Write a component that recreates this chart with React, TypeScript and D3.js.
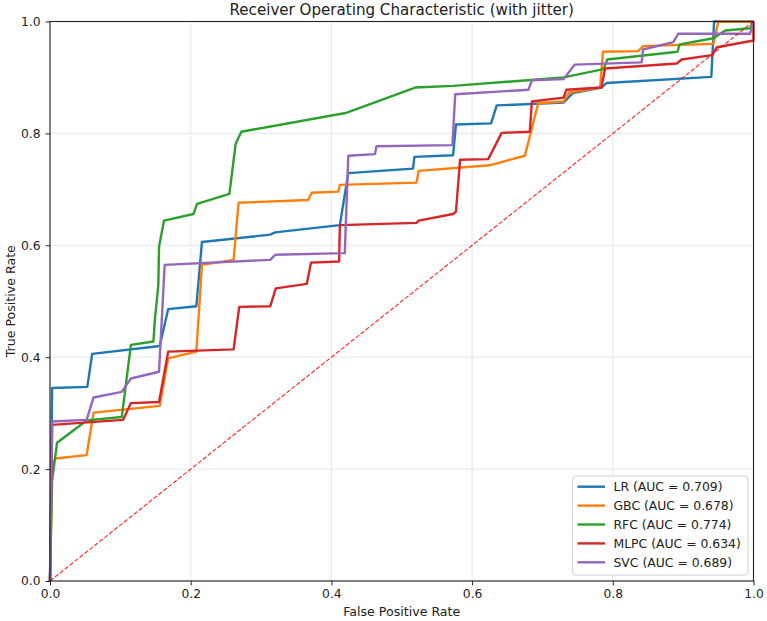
import React, {useEffect, useRef} from "react";
import {axisBottom, axisLeft, line, scaleLinear, select} from "d3";

// ROC curve points
const lrFpr = [0, 0.003, 0.053, 0.06, 0.156, 0.168, 0.208, 0.216, 0.313, 0.32, 0.412, 0.424, 0.516, 0.518, 0.573, 0.577, 0.627, 0.635, 0.73, 0.743, 0.784, 0.791, 0.94, 0.944, 1];
const lrTpr = [0, 0.345, 0.347, 0.406, 0.42, 0.486, 0.491, 0.606, 0.619, 0.623, 0.636, 0.729, 0.737, 0.758, 0.761, 0.816, 0.818, 0.85, 0.855, 0.872, 0.882, 0.89, 0.901, 1, 1];

const gbcFpr = [0, 0.003, 0.008, 0.052, 0.062, 0.156, 0.168, 0.208, 0.216, 0.261, 0.268, 0.367, 0.372, 0.41, 0.412, 0.521, 0.524, 0.625, 0.675, 0.694, 0.73, 0.738, 0.782, 0.786, 0.836, 0.843, 0.943, 0.95, 1];
const gbcTpr = [0, 0.205, 0.219, 0.225, 0.301, 0.313, 0.398, 0.41, 0.565, 0.574, 0.676, 0.681, 0.694, 0.696, 0.708, 0.712, 0.733, 0.743, 0.76, 0.854, 0.857, 0.873, 0.882, 0.946, 0.947, 0.956, 0.96, 1, 1];

const rfcFpr = [0, 0.003, 0.01, 0.052, 0.102, 0.115, 0.147, 0.149, 0.154, 0.155, 0.162, 0.204, 0.209, 0.255, 0.264, 0.272, 0.422, 0.519, 0.573, 0.73, 0.787, 0.792, 0.892, 0.895, 0.943, 0.96, 0.995, 1];
const rfcTpr = [0, 0.18, 0.247, 0.287, 0.293, 0.422, 0.428, 0.466, 0.529, 0.598, 0.644, 0.656, 0.674, 0.692, 0.782, 0.803, 0.837, 0.882, 0.885, 0.9, 0.915, 0.932, 0.946, 0.959, 0.97, 0.984, 0.988, 1];

const mlpcFpr = [0, 0.003, 0.104, 0.115, 0.155, 0.168, 0.261, 0.269, 0.313, 0.321, 0.365, 0.371, 0.411, 0.412, 0.521, 0.524, 0.573, 0.577, 0.583, 0.623, 0.642, 0.682, 0.685, 0.73, 0.734, 0.784, 0.789, 0.891, 0.898, 0.941, 0.948, 1, 1];
const mlpcTpr = [0, 0.279, 0.288, 0.318, 0.32, 0.41, 0.414, 0.49, 0.491, 0.523, 0.531, 0.569, 0.571, 0.636, 0.64, 0.644, 0.656, 0.66, 0.753, 0.754, 0.801, 0.803, 0.857, 0.864, 0.878, 0.882, 0.916, 0.925, 0.932, 0.94, 0.954, 0.966, 1];

const svcFpr = [0, 0.003, 0.052, 0.062, 0.102, 0.115, 0.155, 0.163, 0.313, 0.32, 0.419, 0.424, 0.462, 0.464, 0.572, 0.576, 0.68, 0.685, 0.73, 0.746, 0.841, 0.843, 0.886, 0.893, 0.995, 1];
const svcTpr = [0, 0.285, 0.288, 0.328, 0.338, 0.362, 0.374, 0.565, 0.574, 0.583, 0.586, 0.76, 0.763, 0.777, 0.779, 0.87, 0.878, 0.895, 0.897, 0.923, 0.927, 0.95, 0.963, 0.978, 0.978, 1];

const models = ["LR", "GBC", "RFC", "MLPC", "SVC"];
const aucs = ["0.709", "0.678", "0.774", "0.634", "0.689"];
const colors = ["#1f77b4", "#ff7f0e", "#2ca02c", "#d62728", "#9467bd"];
const ticks = [0, 0.2, 0.4, 0.6, 0.8, 1.0];

function App() {
    const svgRef = useRef();
    const width = 767;
    const height = 621;

    useEffect(() => {
        const svg = select(svgRef.current);
        svg.selectAll("*").remove();

        const x = scaleLinear().domain([0, 1]).range([50, 753.5]);
        const y = scaleLinear().domain([0, 1]).range([581, 21.5]);
        const font = "DejaVu Sans, sans-serif";

        // grid
        const grid = svg.append("g");
        grid.selectAll(".gx").data(ticks).join("line")
            .attr("x1", d => x(d)).attr("x2", d => x(d))
            .attr("y1", y(0)).attr("y2", y(1))
            .attr("stroke", "#b0b0b0").attr("stroke-opacity", 0.3).attr("stroke-width", 1);
        grid.selectAll(".gy").data(ticks).join("line")
            .attr("y1", d => y(d)).attr("y2", d => y(d))
            .attr("x1", x(0)).attr("x2", x(1))
            .attr("stroke", "#b0b0b0").attr("stroke-opacity", 0.3).attr("stroke-width", 1);

        const series = [
            [lrFpr, lrTpr], [gbcFpr, gbcTpr], [rfcFpr, rfcTpr], [mlpcFpr, mlpcTpr], [svcFpr, svcTpr]
        ];
        const lineGen = line().x(d => x(d[0])).y(d => y(d[1]));

        const plot = svg.append("g");
        series.forEach(([f, t], i) => {
            plot.append("path")
                .datum(f.map((v, j) => [v, t[j]]))
                .attr("d", lineGen)
                .attr("fill", "none")
                .attr("stroke", colors[i])
                .attr("stroke-width", 2.4)
                .attr("stroke-linejoin", "round");
        });

        // chance line
        plot.append("path")
            .datum([[0, 0], [1, 1]])
            .attr("d", lineGen)
            .attr("fill", "none")
            .attr("stroke", "#ff0000")
            .attr("stroke-opacity", 0.8)
            .attr("stroke-width", 1.2)
            .attr("stroke-dasharray", "4.4,1.9");

        // axes
        const xAxis = svg.append("g")
            .attr("transform", `translate(0, ${y(0)})`)
            .call(axisBottom(x).tickValues(ticks).tickFormat(d => d.toFixed(1)).tickSize(4.4).tickPadding(4));
        const yAxis = svg.append("g")
            .attr("transform", `translate(${x(0)}, 0)`)
            .call(axisLeft(y).tickValues(ticks).tickFormat(d => d.toFixed(1)).tickSize(4.4).tickPadding(5));
        [xAxis, yAxis].forEach(a => {
            a.select(".domain").remove();
            a.selectAll("text").attr("font-family", font).attr("font-size", 12.3).attr("fill", "#222");
            a.selectAll("line").attr("stroke", "#222").attr("stroke-width", 1);
        });

        // spines
        svg.append("rect")
            .attr("x", x(0)).attr("y", y(1))
            .attr("width", x(1) - x(0)).attr("height", y(0) - y(1))
            .attr("fill", "none").attr("stroke", "#222").attr("stroke-width", 1.1);

        // labels
        svg.append("text").text("Receiver Operating Characteristic (with jitter)")
            .attr("x", (x(0) + x(1)) / 2).attr("y", 15)
            .attr("text-anchor", "middle").attr("font-family", font).attr("font-size", 15.1).attr("fill", "#222");
        svg.append("text").text("False Positive Rate")
            .attr("x", (x(0) + x(1)) / 2).attr("y", 616)
            .attr("text-anchor", "middle").attr("font-family", font).attr("font-size", 12.6).attr("fill", "#222");
        svg.append("text").text("True Positive Rate")
            .attr("transform", `translate(15, ${(y(0) + y(1)) / 2}) rotate(-90)`)
            .attr("text-anchor", "middle").attr("font-family", font).attr("font-size", 12.6).attr("fill", "#222");

        // legend
        const legend = svg.append("g");
        legend.append("rect")
            .attr("x", 572.5).attr("y", 476).attr("width", 175.5).attr("height", 99).attr("rx", 3)
            .attr("fill", "white").attr("fill-opacity", 0.8).attr("stroke", "#d0d0d0").attr("stroke-width", 1);
        models.forEach((m, i) => {
            const ly = 486.7 + i * 18.9;
            legend.append("line")
                .attr("x1", 577.5).attr("x2", 605).attr("y1", ly).attr("y2", ly)
                .attr("stroke", colors[i]).attr("stroke-width", 2.4);
            legend.append("text").text(`${m} (AUC = ${aucs[i]})`)
                .attr("x", 613.5).attr("y", ly).attr("dy", "0.35em")
                .attr("font-family", font).attr("font-size", 12.4).attr("fill", "#222");
        });
    }, []);

    return (
        <svg ref={svgRef} width={width} height={height}
             style={{position: "absolute", left: 0, top: 0, background: "white"}}/>
    );
}

export default App;
